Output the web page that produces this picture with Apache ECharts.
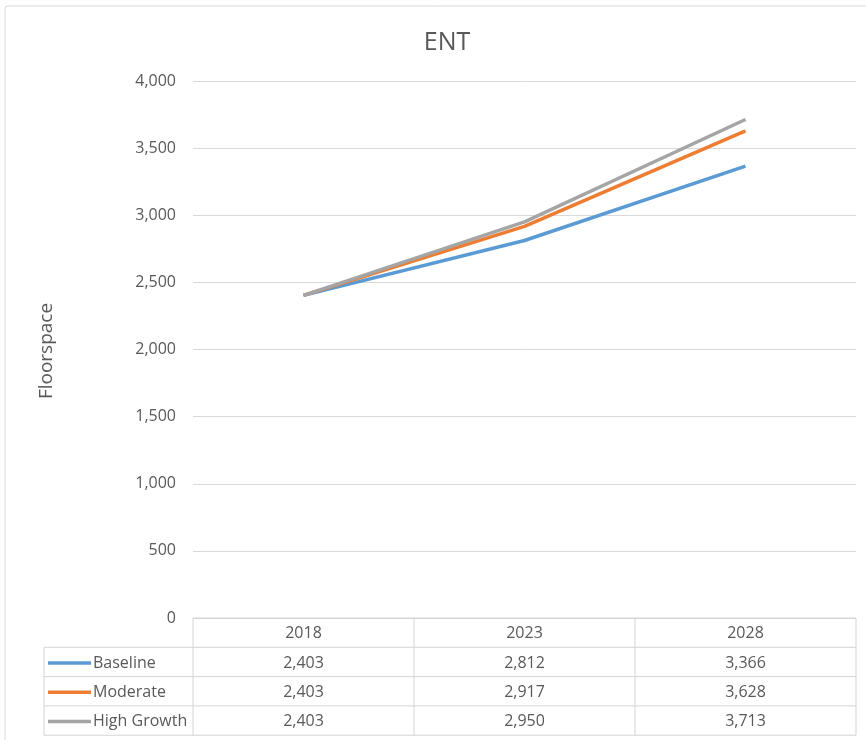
<!DOCTYPE html>
<html><head><meta charset="utf-8">
<script src="https://cdn.jsdelivr.net/npm/echarts@6/dist/echarts.min.js"></script>
<style>html,body{margin:0;padding:0;background:#fff}#c{width:866px;height:740px}</style>
</head><body><div id="c"></div>
<script>
const categories = ['2018', '2023', '2028'];
const seriesNames = ['Baseline', 'Moderate', 'High Growth'];
const baseline = [2403, 2812, 3366];
const moderate = [2403, 2917, 3628];
const highGrowth = [2403, 2950, 3713];
const colors = ['#5B9BD5', '#ED7D31', '#A5A5A5'];
const allValues = [baseline, moderate, highGrowth];

const FONT = '"Open Sans", "Noto Sans", sans-serif';
const TXT = '#595959';
const fmt = v => v.toLocaleString('en-US');

const chart = echarts.init(document.getElementById('c'));
const G = {left: 193, right: 10, top: 81, bottom: 122};
chart.setOption({
  animation: false,
  backgroundColor: '#fff',
  title: {text: 'ENT', left: 442, top: 25, textAlign: 'center',
    textStyle: {fontFamily: FONT, fontSize: 25, fontWeight: 'normal', color: TXT}},
  grid: G,
  xAxis: {type: 'category', data: categories, boundaryGap: true,
    axisLine: {show: false}, axisTick: {show: false}, axisLabel: {show: false}},
  yAxis: {type: 'value', min: 0, max: 4000, interval: 500,
    axisLine: {show: false}, axisTick: {show: false},
    axisLabel: {formatter: v => fmt(v), margin: 17, fontFamily: FONT, fontSize: 16, color: TXT},
    splitLine: {lineStyle: {color: '#d9d9d9', width: 1}}},
  series: seriesNames.map((n, i) => ({
    name: n, type: 'line', data: allValues[i], symbol: 'none',
    lineStyle: {color: colors[i], width: 3.5}, itemStyle: {color: colors[i]}
  }))
});

const W = 866, H = 740;
const x0 = G.left, x1 = W - G.right, yTop = H - G.bottom;
const colW = (x1 - x0) / categories.length;
const rowH = 29.3;
const lineC = '#d4d4d4';
const g = [];
g.push({type: 'rect', shape: {x: 5, y: 6, width: 880, height: 760, r: 3},
  style: {fill: 'none', stroke: '#d9d9d9', lineWidth: 1}, silent: true, z: -1});
g.push({type: 'text', x: 47, y: 351, rotation: Math.PI / 2,
  style: {text: 'Floorspace', fontFamily: FONT, fontSize: 19, fill: TXT, align: 'center', verticalAlign: 'middle'}});
g.push({type: 'line', shape: {x1: x0, y1: yTop, x2: x1, y2: yTop}, style: {stroke: lineC, lineWidth: 1}});
for (let r = 1; r <= seriesNames.length + 1; r++) {
  const y = yTop + r * rowH;
  g.push({type: 'line', shape: {x1: 44, y1: y, x2: x1, y2: y}, style: {stroke: lineC, lineWidth: 1}});
}
g.push({type: 'line', shape: {x1: 44, y1: yTop + rowH, x2: 44, y2: yTop + (seriesNames.length + 1) * rowH}, style: {stroke: lineC, lineWidth: 1}});
for (let c = 0; c <= categories.length; c++) {
  const x = x0 + c * colW;
  g.push({type: 'line', shape: {x1: x, y1: yTop, x2: x, y2: yTop + (seriesNames.length + 1) * rowH}, style: {stroke: lineC, lineWidth: 1}});
}
categories.forEach((cat) => {
  const cx = chart.convertToPixel({xAxisIndex: 0}, cat);
  g.push({type: 'text', x: cx, y: yTop + rowH / 2 + 1,
    style: {text: cat, fontFamily: FONT, fontSize: 16, fill: TXT, align: 'center', verticalAlign: 'middle'}});
});
seriesNames.forEach((n, r) => {
  const cy = yTop + (r + 1) * rowH + rowH / 2 + 1;
  g.push({type: 'line', shape: {x1: 48, y1: cy, x2: 91, y2: cy}, style: {stroke: colors[r], lineWidth: 3.5}});
  g.push({type: 'text', x: 93, y: cy,
    style: {text: n, fontFamily: FONT, fontSize: 16, fill: TXT, align: 'left', verticalAlign: 'middle'}});
  categories.forEach((cat, c) => {
    const cx = chart.convertToPixel({xAxisIndex: 0}, cat);
    g.push({type: 'text', x: cx, y: cy,
      style: {text: fmt(allValues[r][c]), fontFamily: FONT, fontSize: 16, fill: TXT, align: 'center', verticalAlign: 'middle'}});
  });
});
chart.setOption({graphic: {elements: g}});
</script></body></html>
